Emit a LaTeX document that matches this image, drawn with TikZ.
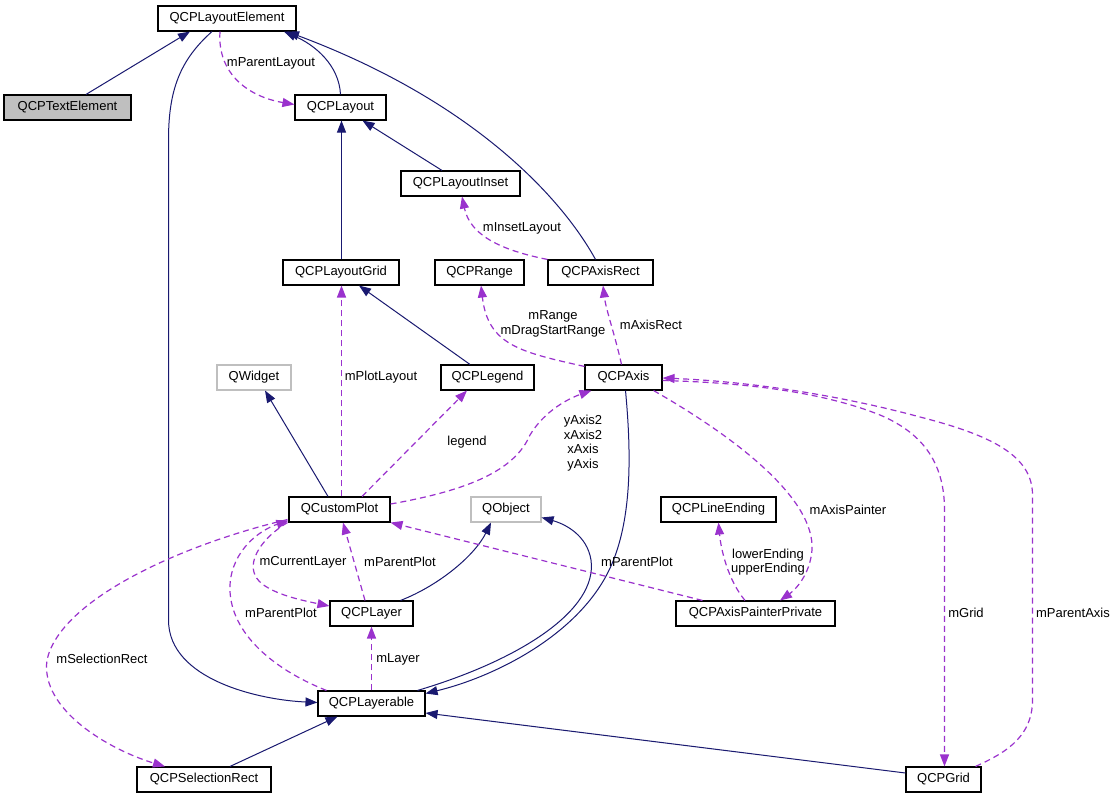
\documentclass[tikz,border=0pt]{standalone}
\usepackage{fontspec}
\setmainfont{Liberation Sans}
\usetikzlibrary{arrows.meta,calc}
\definecolor{navy}{HTML}{191970}
\definecolor{orchid}{HTML}{9A32CD}
\definecolor{lgray}{HTML}{BFBFBF}
\begin{document}
\begin{tikzpicture}[x=1pt,y=-1pt,
  font=\fontsize{13}{14.5}\selectfont,
  box/.style={draw=black, line width=1.1pt, fill=white, minimum height=25pt, inner sep=0pt, text=black},
  gbox/.style={box, draw=lgray},
  inh/.style={navy, line width=1pt, -{Triangle[length=12pt,width=9pt]}},
  use/.style={orchid, line width=1.2pt, dash pattern=on 6pt off 4pt, -{Triangle[length=12pt,width=9pt]}},
  lbl/.style={align=center, inner sep=0pt, text=black}]
\fill[white] (0,0) rectangle (1117,799);
\useasboundingbox (0,0) rectangle (1117,799);

% nodes
\node[box, minimum width=138pt] (le) at (227,18.5) {QCPLayoutElement};
\node[box, fill=lgray, minimum width=127pt] (te) at (67.5,107.5) {QCPTextElement};
\node[box, minimum width=91pt] (lay) at (340.5,107.5) {QCPLayout};
\node[box, minimum width=119pt] (ins) at (460.5,183.5) {QCPLayoutInset};
\node[box, minimum width=116pt] (lgrid) at (341,272.5) {QCPLayoutGrid};
\node[box, minimum width=89pt] (rng) at (479.5,272.5) {QCPRange};
\node[box, minimum width=105pt] (arect) at (600.5,272.5) {QCPAxisRect};
\node[gbox, minimum width=74pt] (qw) at (254,377.5) {QWidget};
\node[box, minimum width=93pt] (leg) at (487.5,377.5) {QCPLegend};
\node[box, minimum width=77pt] (axis) at (623.5,377.5) {QCPAxis};
\node[box, minimum width=101pt] (cp) at (339.5,509.5) {QCustomPlot};
\node[gbox, minimum width=70pt] (qo) at (506,509.5) {QObject};
\node[box, minimum width=115pt] (lend) at (718.5,509.5) {QCPLineEnding};
\node[box, minimum width=83pt] (layer) at (371.5,613.5) {QCPLayer};
\node[box, minimum width=159pt] (app) at (755.5,613.5) {QCPAxisPainterPrivate};
\node[box, minimum width=107pt] (lyb) at (371.5,703.5) {QCPLayerable};
\node[box, minimum width=134pt] (sel) at (204,779.5) {QCPSelectionRect};
\node[box, minimum width=75pt] (qgrid) at (943.5,779.5) {QCPGrid};

% inheritance edges
\draw[inh] ($(te.north)+(18.5,0)$) -- ($(le.south)+(-37,0)$);
\draw[inh] (lay.north) .. controls (339,65) and (315,45) .. ($(le.south)+(57,0)$);
\draw[inh] ($(ins.north)+(-18.5,0)$) -- ($(lay.south)+(22,0)$);
\draw[inh] ($(lgrid.north)+(0.5,0)$) -- ($(lgrid.north |- lay.south)+(0.5,0)$);
\draw[inh] ($(arect.north)+(-5,0)$) .. controls (560,195) and (470,100) .. ($(le.south)+(60,0)$);
\draw[inh] ($(leg.north)+(-17.5,0)$) -- ($(lgrid.south)+(18,0)$);
\draw[inh] ($(cp.north)+(-11.5,0)$) -- ($(qw.south)+(11,0)$);
\draw[inh] ($(le.south)+(-15,0)$) .. controls (180,60) and (168.5,90) .. (168.5,140) -- (168.5,620) .. controls (168.5,680) and (260,700) .. ($(lyb.west)+(0,-1)$);
\draw[inh] ($(axis.south)+(2,0)$) .. controls (632,460) and (632,530) .. (605,578) .. controls (570,640) and (490,678) .. ($(lyb.east)+(0,-10)$);
\draw[inh] ($(lyb.north east)+(-8,0)$) .. controls (520,660) and (598,610) .. (591,560) .. controls (587,535) and (565,524) .. ($(qo.east)+(0,8)$);
\draw[inh] ($(layer.north east)+(-13,0)$) .. controls (440,585) and (475,555) .. ($(qo.south)+(-15,0)$);
\draw[inh] ($(sel.north)+(26,0)$) -- ($(lyb.south west)+(20,0)$);
\draw[inh] ($(qgrid.west)+(0,-6.5)$) -- ($(lyb.east)+(0,9.5)$);

% usage edges
\draw[use] ($(le.south)+(-7,0)$) .. controls (217,75) and (250,97) .. ($(lay.west)+(0,-3)$);
\node[lbl] (l1) at (271,63) {mParentLayout};
\draw[use] (arect.north west) .. controls (500,250) and (470,235) .. ($(ins.south)+(1.5,0)$);
\node[lbl] (l2) at (522,228) {mInsetLayout};
\draw[use] ($(cp.north)+(2,0)$) -- ($(lgrid.south)+(0.5,0)$);
\node[lbl] (l3) at (381,377) {mPlotLayout};
\draw[use] ($(axis.north west)+(0,2)$) .. controls (520,352) and (488,345) .. ($(rng.south)+(1.5,0)$);
\node[lbl] (l4) at (553,324) {mRange\\mDragStartRange};
\draw[use] ($(axis.north)+(-2,0)$) .. controls (615,335) and (606,310) .. ($(arect.south)+(2.5,0)$);
\node[lbl] (l5) at (651,325) {mAxisRect};
\draw[use] ($(cp.north)+(22.5,0)$) -- ($(leg.south)+(-20.5,0)$);
\node[lbl] (l6) at (467,442) {legend};
\draw[use] ($(cp.east)+(0,-5.5)$) .. controls (470,490) and (515,470) .. (530,435) .. controls (545,410) and (570,398) .. ($(axis.south west)+(7,0)$);
\node[lbl] (l7) at (583,443) {yAxis2\\xAxis2\\xAxis\\yAxis};
\draw[use] ($(app.north west)+(27,0)$) -- (cp.south east);
\node[lbl] (l8) at (637,562) {mParentPlot};
\draw[use] ($(app.north)+(-10.5,0)$) .. controls (728,580) and (721,550) .. (lend.south);
\node[lbl] (l9) at (768,562) {lowerEnding\\upperEnding};
\draw[use] ($(axis.south east)+(-9,0)$) .. controls (740,440) and (815,500) .. (812,550) .. controls (810,575) and (795,590) .. ($(app.north)+(24.5,0)$);
\node[lbl] (l10) at (848,510) {mAxisPainter};
\draw[use] ($(axis.east)+(0,3)$) .. controls (760,383) and (830,395) .. (880,415) .. controls (920,432) and (944.5,460) .. (944.5,510) -- ($(qgrid.north)+(1,0)$);
\node[lbl] (l11) at (966,613) {mGrid};
\draw[use] ($(qgrid.north east)+(-6,0)$) .. controls (1000,755) and (1032.5,740) .. (1032.5,700) -- (1032.5,495) .. controls (1032.5,455) and (990,435) .. (920,417) .. controls (850,398) and (760,382) .. ($(axis.east)+(0,0.5)$);
\node[lbl] (l12) at (1073,613) {mParentAxis};
\draw[use] ($(layer.north)+(-6.5,0)$) -- ($(cp.south)+(3.5,0)$);
\node[lbl] (l13) at (400,562) {mParentPlot};
\draw[use] ($(cp.south west)+(-1,0)$) .. controls (262,538) and (248,560) .. (255,575) .. controls (262,592) and (300,600) .. ($(layer.west)+(0,-7.5)$);
\node[lbl] (l14) at (303,562) {mCurrentLayer};
\draw[use] (lyb.north) -- (layer.south);
\node[lbl] (l15) at (398,659) {mLayer};
\draw[use] ($(lyb.north west)+(9,0)$) .. controls (270,668) and (228,630) .. (230,585) .. controls (232,550) and (260,530) .. ($(cp.south west)+(0,-2)$);
\node[lbl] (l16) at (281,613) {mParentPlot};
\draw[use] ($(cp.south west)+(-1,-3)$) .. controls (180,545) and (60,600) .. (47,660) .. controls (40,710) and (110,750) .. ($(sel.north)+(-39,0)$);
\node[lbl] (l17) at (102,659) {mSelectionRect};
\end{tikzpicture}
\end{document}
